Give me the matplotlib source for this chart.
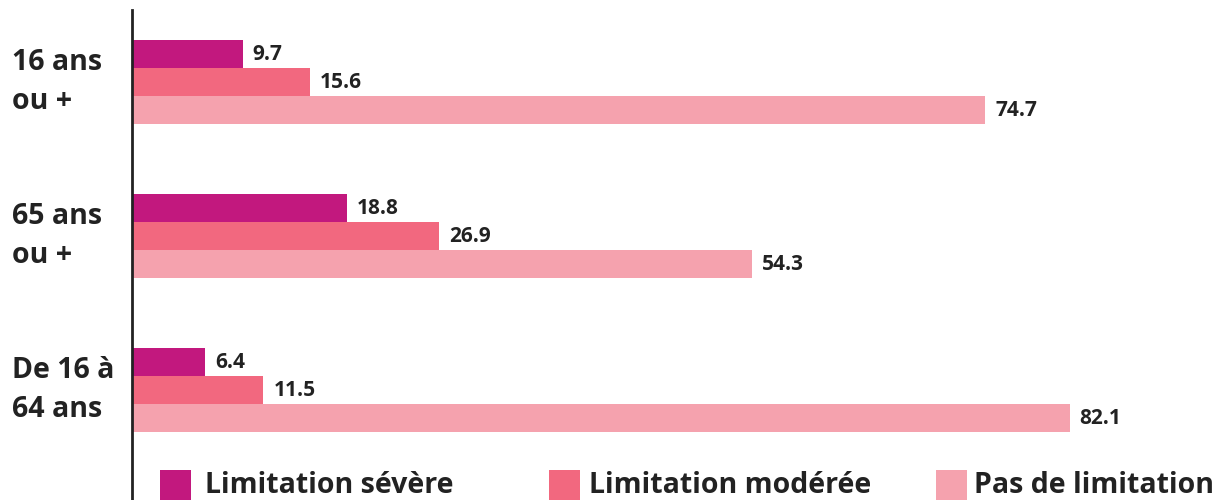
import matplotlib.pyplot as plt
from matplotlib.patches import Rectangle

plt.rcParams.update({"font.family": "Open Sans", "font.weight": "bold"})

groups = ["16 ans\nou +", "65 ans\nou +", "De 16 à\n64 ans"]
series_names = ["Limitation sévère", "Limitation modérée", "Pas de limitation"]
severe = [9.7, 18.8, 6.4]
moderate = [15.6, 26.9, 11.5]
none_lim = [74.7, 54.3, 82.1]
colors = ["#C2187E", "#F2687F", "#F5A2AE"]

W, H = 1226, 500
fig = plt.figure(figsize=(W / 100, H / 100), dpi=100)
ax = fig.add_axes([132 / W, 0, 1 - 132 / W, 490 / H])

bar_h = 0.182
offsets = [-bar_h, 0, bar_h]
text_col = "#222222"
for vals, off, col in zip([severe, moderate, none_lim], offsets, colors):
    ys = [i + off for i in range(len(groups))]
    ax.barh(ys, vals, height=bar_h, color=col, linewidth=0)
    for y, v in zip(ys, vals):
        ax.annotate(f"{v:.1f}", (v, y), xytext=(10, 0), textcoords="offset pixels",
                    va="center", ha="left", fontsize=15, fontweight="bold", color=text_col)

ax.set_xlim(0, 95.8)
ax.set_ylim(2.714, -0.468)
for s in ["top", "right", "bottom"]:
    ax.spines[s].set_visible(False)
ax.spines["left"].set_linewidth(2)
ax.spines["left"].set_color("#222222")
ax.set_xticks([])
ax.set_yticks([])

for i, g in enumerate(groups):
    ax.annotate(g, (0, i), xycoords=("figure fraction", "data"), xytext=(12, 0),
                textcoords="offset pixels", ha="left", va="center", fontsize=20.5,
                fontweight="bold", color=text_col, linespacing=1.45)

# legend drawn by hand so the three columns sit at fixed positions
leg_box = [160, 549, 936]
leg_txt = [205, 589, 974]
for bx, tx, c, n in zip(leg_box, leg_txt, colors, series_names):
    fig.patches.append(Rectangle((bx / W, 0), 31 / W, 30 / H, transform=fig.transFigure,
                                 color=c, linewidth=0))
    fig.text(tx / W, 1 - 493 / H, n, ha="left", va="baseline", fontsize=20.5,
             fontweight="bold", color=text_col)

fig.savefig("out.png", dpi=100)
